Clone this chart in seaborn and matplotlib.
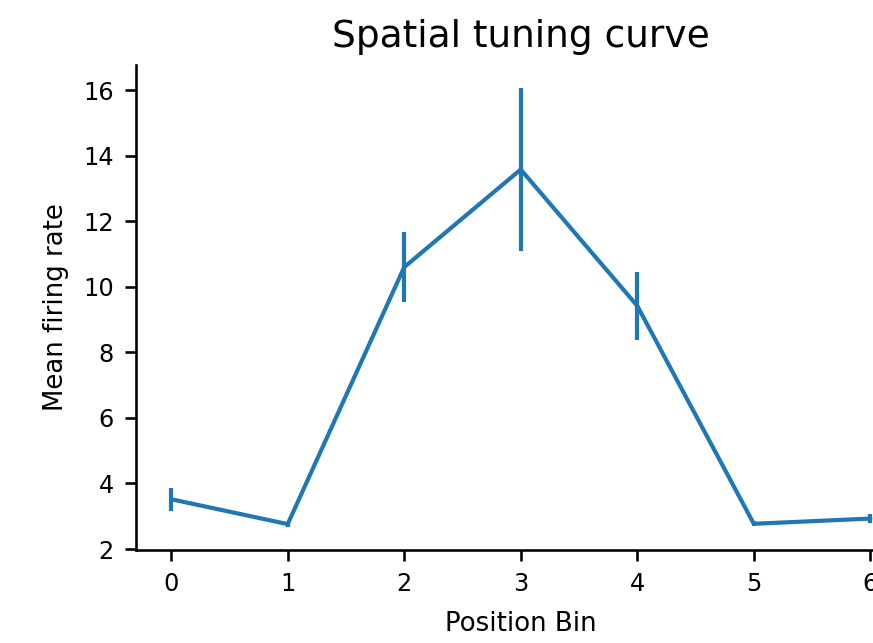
import numpy as np
import pandas as pd
import matplotlib
matplotlib.use("Agg")
import matplotlib.pyplot as plt
import seaborn as sns

position_bins = [0, 1, 2, 3, 4, 5, 6]
mean_rate = [3.52, 2.76, 10.6, 13.58, 9.42, 2.77, 2.93]
sem_rate = [0.35, 0.08, 1.07, 2.48, 1.04, 0.08, 0.14]

df = pd.DataFrame({"Position Bin": position_bins, "Mean firing rate": mean_rate})

sns.set_style("ticks", rc={
    "text.color": "black", "axes.labelcolor": "black", "axes.edgecolor": "black",
    "xtick.color": "black", "ytick.color": "black",
})
plt.rcParams["font.family"] = ["DejaVu Sans"]
plt.rcParams["axes.linewidth"] = 1.25

fig = plt.figure(figsize=(873 / 150, 643 / 150), dpi=150)
ax = fig.add_axes([0.156, 0.1446, 0.881, 0.7544])

color = "#1f77b4"
sns.lineplot(data=df, x="Position Bin", y="Mean firing rate", color=color, lw=2.0, ax=ax)
ax.errorbar(position_bins, mean_rate, yerr=sem_rate, fmt="none", ecolor=color, elinewidth=2.0, capsize=0)

ax.set_xlim(-0.3, 6.3)
ax.set_ylim(1.97, 16.77)
ax.set_xticks(position_bins)
ax.set_yticks([2, 4, 6, 8, 10, 12, 14, 16])
ax.tick_params(labelsize=11.5, length=5.2, width=1.25, pad=5.5)
ax.set_title("Spatial tuning curve", fontsize=18, pad=8.5)
ax.set_xlabel("Position Bin", fontsize=12.5, labelpad=7)
ax.set_ylabel("Mean firing rate", fontsize=12.5, labelpad=7)
sns.despine(ax=ax)

fig.savefig("out.png", dpi=150)
